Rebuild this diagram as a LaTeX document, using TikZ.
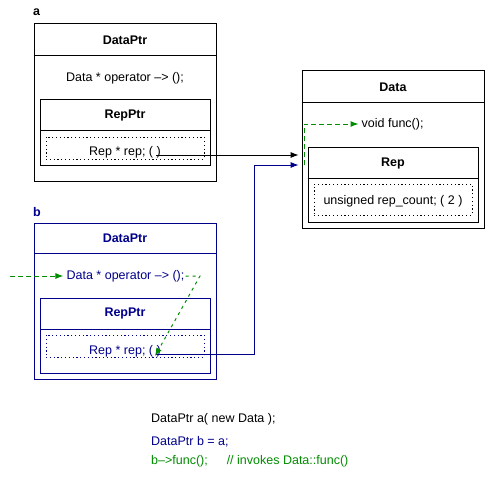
\documentclass[tikz,border=0pt]{standalone}
\usepackage{fontspec}
\setmainfont{Liberation Sans}
\usetikzlibrary{arrows.meta}
\definecolor{navyc}{RGB}{0,0,139}
\definecolor{greenc}{RGB}{0,140,0}
\tikzset{
  box/.style={draw, line width=0.8pt, inner sep=0pt},
  dotbox/.style={draw, line width=0.8pt, dash pattern=on 1.2pt off 2.6pt, inner sep=0pt},
  txt/.style={inner sep=0pt, font=\fontsize{12.5}{14}\selectfont},
  hdr/.style={txt, font=\fontsize{12.5}{14}\selectfont\bfseries},
  arr/.style={line width=0.8pt, -{Latex[length=8pt,width=6pt]}},
  garr/.style={arr, line width=1pt, greenc, dash pattern=on 5pt off 3pt},
}
\begin{document}
\begin{tikzpicture}[x=1pt,y=-1pt]
\useasboundingbox (0,0) rectangle (496,479);
% ---------------- box a ----------------
\node[hdr, anchor=base west] (la) at (33,16) {a};
\node[box, minimum width=182pt, minimum height=158pt] (aout) at (125,102) {};
\draw[line width=0.8pt] (34,55) -- (216,55);
\node[hdr] (adp) at (125,40) {DataPtr};
\node[txt] (aop) at (125,78) {Data * operator \textendash> ();};
\node[box, minimum width=170pt, minimum height=66pt] (arp) at (125.7,132) {};
\draw[line width=0.8pt] (arp.west |- 0,130) -- (arp.east |- 0,130);
\node[hdr] (arph) at (125,115) {RepPtr};
\node[dotbox, minimum width=158pt, minimum height=22pt] (arepd) at (125,148) {};
\node[txt] (arep) at (125,152.5) {Rep * rep; ( )};
\coordinate (ap) at (156,155);
% ---------------- Data ----------------
\node[box, minimum width=182pt, minimum height=158pt] (dout) at (393,149) {};
\draw[line width=0.8pt] (dout.west |- 0,102.5) -- (dout.east |- 0,102.5);
\node[hdr] (dh) at (393,87) {Data};
\node[txt, anchor=west] (dfunc) at (361.5,124) {void func();};
\node[box, minimum width=170pt, minimum height=75pt] (drep) at (393,184.5) {};
\draw[line width=0.8pt] (drep.west |- 0,178) -- (drep.east |- 0,178);
\node[hdr] (drh) at (393,163) {Rep};
\node[dotbox, minimum width=158pt, minimum height=31pt] (drd) at (393,199.5) {};
\node[txt] (drc) at (393,201) {unsigned rep\_count; ( 2 )};
\coordinate (gstart) at (304,165);
% ---------------- box b ----------------
\node[hdr, anchor=base west, navyc] (lb) at (33,216) {b};
\begin{scope}[navyc]
\node[box, minimum width=182pt, minimum height=156pt] (bout) at (125,301) {};
\draw[line width=0.8pt] (34,253) -- (216,253);
\node[hdr] (bdp) at (125,238) {DataPtr};
\node[txt] (bop) at (125.5,276) {Data * operator \textendash> ();};
\node[box, minimum width=170pt, minimum height=75pt] (brp) at (125.7,335.5) {};
\draw[line width=0.8pt] (brp.west |- 0,329) -- (brp.east |- 0,329);
\node[hdr] (brph) at (125,313) {RepPtr};
\node[dotbox, minimum width=158pt, minimum height=22pt] (brepd) at (125,346) {};
\node[txt] (brep) at (125,351.5) {Rep * rep; ( )};
\end{scope}
\coordinate (bp) at (156,354);
\coordinate (bcorner) at (200,276);
\coordinate (gin) at (10,276);
% ---------------- connectors ----------------
\draw[arr, shorten >=3pt] (ap) -- (ap -| dout.west);
\draw[arr, navyc, shorten >=3pt] (bp) -- (254,354) -- (254,165) -- (dout.west |- 0,165);
\draw[garr] (gstart) -- (gstart |- dfunc.west) -- ([xshift=-3pt]dfunc.west);
\draw[garr] (gin) -- ([xshift=-3pt]bop.west);
\draw[garr, dash pattern=on 3pt off 4pt] ([xshift=1pt]bop.east) -- (bcorner) -- ([xshift=-1pt,yshift=-2pt]bp);
% ---------------- code ----------------
\node[txt, anchor=west] (c1) at (151,419) {DataPtr a( new Data );};
\node[txt, anchor=west, navyc] (c2) at (151,441.5) {DataPtr b = a;};
\node[txt, anchor=west, greenc] (c3) at (151,461.5) {b\textendash>func(); \hspace{12pt} // invokes Data::func()};
\end{tikzpicture}
\end{document}
